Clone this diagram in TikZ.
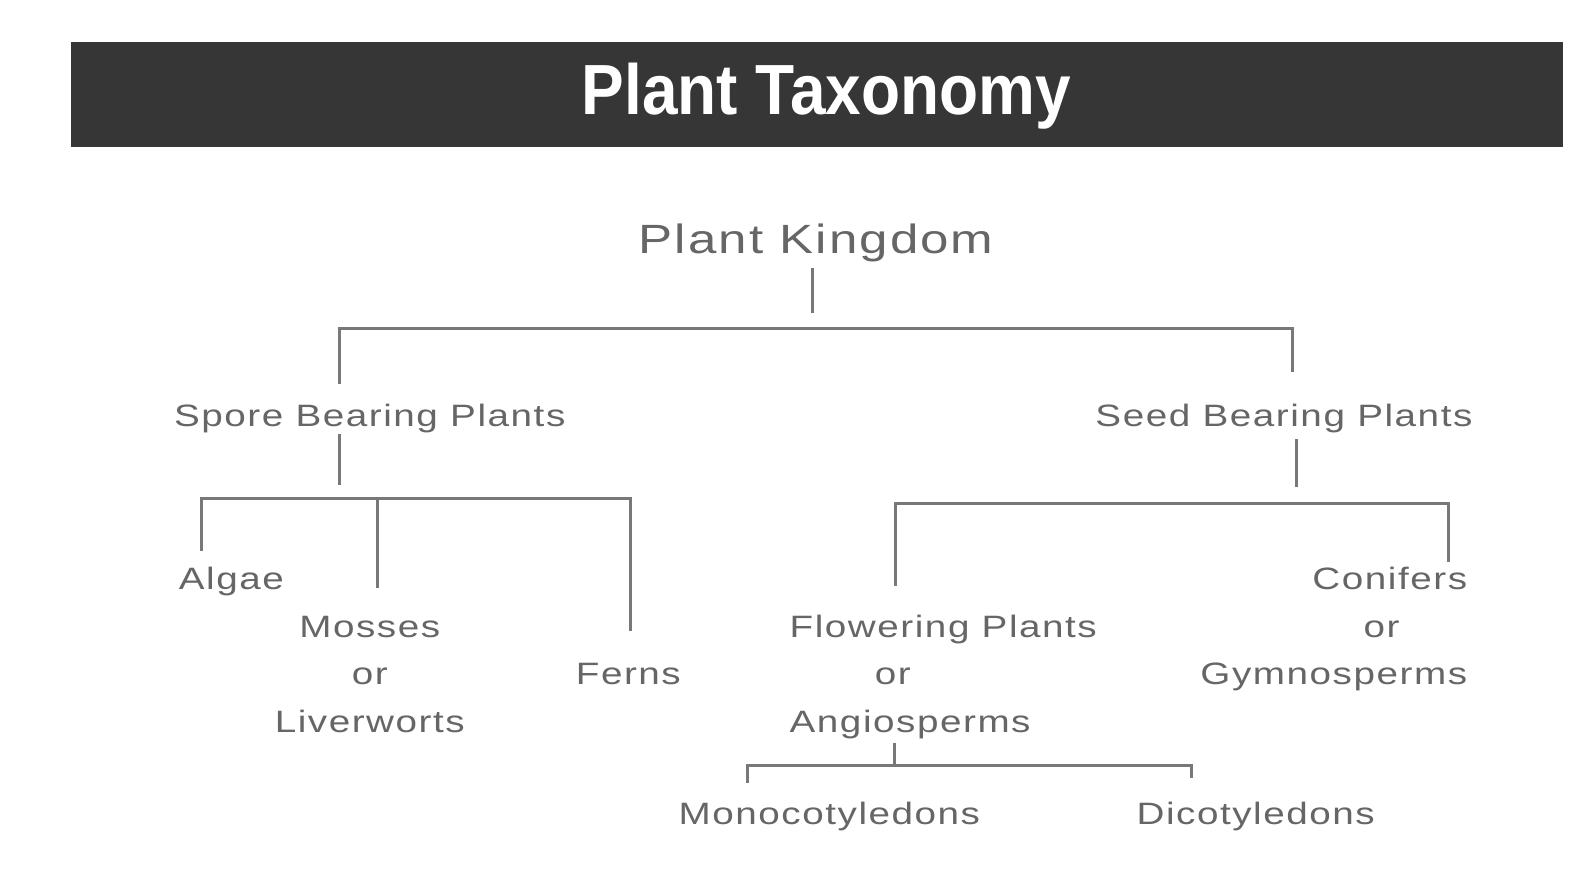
\documentclass[tikz,border=0pt]{standalone}
\usepackage{fontspec}
\setmainfont{Liberation Sans}
\newfontfamily\titlefont[FakeStretch=0.9]{Liberation Sans}
\newfontfamily\labelfont[FakeStretch=1.25,LetterSpace=5]{Liberation Sans}

\definecolor{barcol}{HTML}{363636}
\definecolor{ink}{HTML}{666666}
\definecolor{wire}{HTML}{787878}

\begin{document}
\begin{tikzpicture}[x=0.01cm, y=-0.01cm,
    taxon/.style={font={\labelfont\fontsize{8.7pt}{13.4pt}\selectfont}, text=ink,
      inner sep=0pt, align=center, anchor=base},
    branch/.style={draw=wire, line width=0.85pt}]
  \useasboundingbox[fill=white] (0,0) rectangle (1568,863);

  % Title bar
  \fill[barcol] (70,42) rectangle (1547,146);
  \node[font={\titlefont\bfseries\fontsize{20pt}{24pt}\selectfont}, text=white,
    inner sep=0pt, anchor=base] (title) at (818,113) {Plant Taxonomy};

  % Labels (multi-line ones sit on their last baseline)
  \node[taxon, font={\labelfont\fontsize{11.5pt}{14pt}\selectfont}] (kingdom) at (808,251) {Plant Kingdom};
  \node[taxon] (spore) at (366,422) {Spore Bearing Plants};
  \node[taxon] (seed) at (1271,422) {Seed Bearing Plants};
  \node[taxon] (algae) at (229,584) {Algae};
  \node[taxon] (mosses) at (366,725) {Mosses\\or\\Liverworts};
  \node[taxon] (ferns) at (622,678) {Ferns};
  \node[taxon, align=left, anchor=base west] (angio) at (781,725)
    {Flowering Plants\\\hspace*{24pt}or\\Angiosperms};
  \node[taxon, align=right, anchor=base east] (gymno) at (1453,678)
    {Conifers\\or\hspace*{19pt}\null\\Gymnosperms};
  \node[taxon] (monocot) at (821,816) {Monocotyledons};
  \node[taxon] (dicot) at (1243,816) {Dicotyledons};

  % Bus points
  \coordinate (k1) at (804,265);
  \coordinate (k2) at (804,310);
  \coordinate (kl) at (336,325);
  \coordinate (kr) at (1279,325);
  \coordinate (s1) at (336,430);
  \coordinate (s2) at (336,480);
  \coordinate (sl) at (199,493);
  \coordinate (sm) at (374,493);
  \coordinate (sr) at (624,493);
  \coordinate (d1) at (1283,435);
  \coordinate (d2) at (1283,482);
  \coordinate (dl) at (886,498);
  \coordinate (dr) at (1434,498);
  \coordinate (a1) at (885,735);
  \coordinate (al) at (740,758);
  \coordinate (ar) at (1179,758);

  % Kingdom
  \draw[branch] (k1) -- (k2);
  \draw[branch] (kl |- 0,380) -- (kl) -- (kr) -- (kr |- 0,368);

  % Spore bearing
  \draw[branch] (s1) -- (s2);
  \draw[branch] (sl |- 0,545) -- (sl) -- (sr) -- (sr |- 0,625);
  \draw[branch] (sm) -- (sm |- 0,582);

  % Seed bearing
  \draw[branch] (d1) -- (d2);
  \draw[branch] (dl |- 0,580) -- (dl) -- (dr) -- (dr |- 0,556);

  % Angiosperms
  \draw[branch] (a1) -- (a1 |- al);
  \draw[branch] (al |- 0,775) -- (al) -- (ar) -- (ar |- 0,770);
\end{tikzpicture}
\end{document}
